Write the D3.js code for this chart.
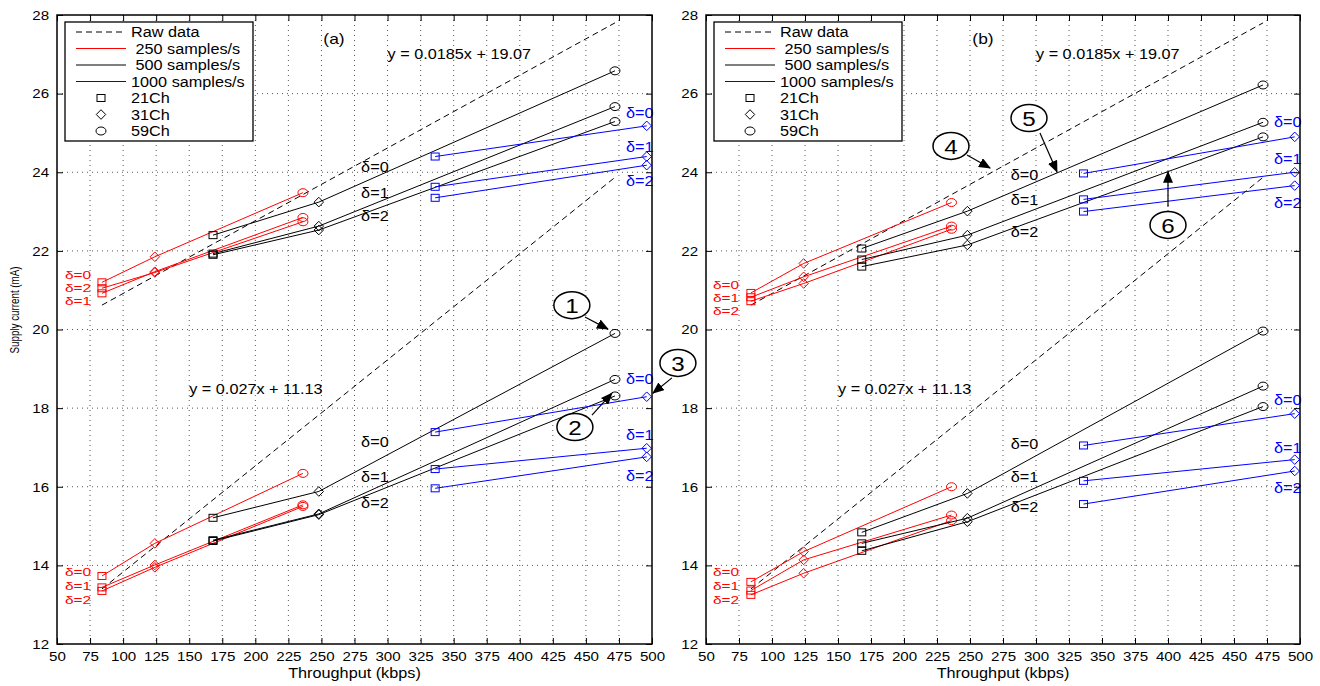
<!DOCTYPE html>
<html>
<head>
<meta charset="utf-8">
<script src="https://cdn.jsdelivr.net/npm/d3@7"></script>
<style>
  body { margin: 0; background: #fff; }
  svg { display: block; font-family: "Liberation Sans", Arial, Helvetica, sans-serif; }
</style>
</head>
<body>
<script>
const WIDTH = 1320;
const HEIGHT = 686;
const SX = 1.16; // the original figure is stretched sideways

// ---- data ----
const X_TICKS = d3.range(50, 501, 25);
const Y_TICKS = d3.range(12, 29, 2);

const RATES = [" 250 samples/s", " 500 samples/s", "1000 samples/s"];
const CHANNELS = ["21Ch", "31Ch", "59Ch"];
const DELTAS = ["δ=0", "δ=1", "δ=2"];

// throughput (kbps) and channel count of every point, per sample rate
const X_250 = [84, 124, 236];
const X_500 = [168, 248, 472];
const X_1000 = [336, 496];
const CH_250 = ["21Ch", "31Ch", "59Ch"];
const CH_500 = ["21Ch", "31Ch", "59Ch"];
const CH_1000 = ["21Ch", "31Ch"];

// raw data (dashed), end points at 84 and 472 kbps
const RAW_X = [84, 472];
const RAW_UP = [20.62, 27.80];
const RAW_LO = [13.40, 23.87];
const FIT_UP = "y = 0.0185x + 19.07";
const FIT_LO = "y = 0.027x + 11.13";

// supply current (mA), rows are delta = 0, 1, 2
const A_UP_250 = [[21.20, 21.85, 23.48], [20.92, 21.47, 22.85], [21.05, 21.45, 22.74]];
const A_UP_500 = [[22.40, 23.24, 26.58], [21.93, 22.63, 25.67], [21.90, 22.53, 25.29]];
const A_UP_1000 = [[24.40, 25.18], [23.63, 24.40], [23.35, 24.18]];
const A_LO_250 = [[13.73, 14.56, 16.34], [13.44, 14.01, 15.54], [13.35, 13.95, 15.50]];
const A_LO_500 = [[15.21, 15.88, 19.90], [14.64, 15.31, 18.73], [14.62, 15.29, 18.31]];
const A_LO_1000 = [[17.39, 18.29], [16.45, 16.98], [15.96, 16.76]];

const B_UP_250 = [[20.93, 21.68, 23.23], [20.82, 21.34, 22.63], [20.72, 21.17, 22.55]];
const B_UP_500 = [[22.06, 23.01, 26.22], [21.78, 22.40, 25.27], [21.60, 22.15, 24.90]];
const B_UP_1000 = [[23.97, 24.90], [23.31, 24.00], [23.00, 23.66]];
const B_LO_250 = [[13.58, 14.35, 16.00], [13.36, 14.14, 15.28], [13.25, 13.80, 15.14]];
const B_LO_500 = [[14.84, 15.83, 19.96], [14.56, 15.20, 18.56], [14.37, 15.11, 18.04]];
const B_LO_1000 = [[17.05, 17.86], [16.15, 16.69], [15.56, 16.40]];

// ---- layout / style ----
const RATE_X = [X_250, X_500, X_1000];
const RATE_CH = [CH_250, CH_500, CH_1000];
const RATE_COLOR = ["#ff0000", "#000000", "#0000ff"];
const TOP = 15, BOTTOM = 644;

// delta label places, in data units: [x, y(δ0), y(δ1), y(δ2)] per rate
const PANELS = [
  { name: "(a)", left: 57, right: 652, ylabel: true,
    groups: [[A_UP_250, A_UP_500, A_UP_1000], [A_LO_250, A_LO_500, A_LO_1000]],
    labels: [
      [[56, 21.39, 20.72, 21.06], [280, 24.13, 23.47, 22.89], [480.3, 25.51, 24.64, 23.78]],
      [[56, 13.83, 13.46, 13.10], [280, 17.14, 16.25, 15.59], [480.3, 18.74, 17.32, 16.27]]
    ],
    notes: [
      { t: "1", cx: 439.4, cy: 20.62, x1: 449.3, y1: 20.32, x2: 466.7, y2: 20.01 },
      { t: "2", cx: 441.7, cy: 17.52, x1: 454.6, y1: 17.82, x2: 469.7, y2: 18.38 },
      { t: "3", cx: 519.6, cy: 19.15, x1: 515.1, y1: 18.77, x2: 500.7, y2: 18.38 }
    ] },
  { name: "(b)", left: 706, right: 1300, ylabel: false,
    groups: [[B_UP_250, B_UP_500, B_UP_1000], [B_LO_250, B_LO_500, B_LO_1000]],
    labels: [
      [[55.3, 21.13, 20.80, 20.47], [280.8, 23.93, 23.29, 22.48], [480.3, 25.29, 24.35, 23.21]],
      [[55.3, 13.83, 13.47, 13.10], [280.8, 17.09, 16.26, 15.48], [480.3, 18.22, 16.98, 15.96]]
    ],
    notes: [
      { t: "4", cx: 235.6, cy: 24.67, x1: 247.7, y1: 24.44, x2: 265.2, y2: 24.11 },
      { t: "5", cx: 294.7, cy: 25.38, x1: 303.0, y1: 25.00, x2: 315.9, y2: 24.01 },
      { t: "6", cx: 400.0, cy: 22.66, x1: 400.0, y1: 23.12, x2: 400.0, y2: 24.01 }
    ] }
];

const svg = d3.select("body").append("svg")
  .attr("width", WIDTH)
  .attr("height", HEIGHT);

svg.append("defs").append("marker")
  .attr("id", "head")
  .attr("markerUnits", "userSpaceOnUse")
  .attr("markerWidth", 12).attr("markerHeight", 10)
  .attr("refX", 11).attr("refY", 5)
  .attr("orient", "auto")
  .append("path")
  .attr("d", "M0,0 L12,5 L0,10 Z")
  .attr("fill", "#000");

const txt = (g, x, y, s, o = {}) =>
  g.append("text")
   .attr("transform", `translate(${x},${y}) scale(${o.sx || SX},1)`)
   .attr("text-anchor", o.anchor || "start")
   .attr("dominant-baseline", "central")
   .attr("font-size", o.size || 14)
   .attr("fill", o.color || "#000")
   .style("white-space", "pre")
   .text(s);

const drawMarker = (g, ch, cx, cy, color) => {
  if (ch === "21Ch") {
    g.append("rect").attr("x", cx - 4).attr("y", cy - 3.5)
     .attr("width", 8).attr("height", 7)
     .attr("fill", "none").attr("stroke", color);
  } else if (ch === "31Ch") {
    g.append("path")
     .attr("d", `M${cx},${cy - 4.8} L${cx + 4.7},${cy} L${cx},${cy + 4.8} L${cx - 4.7},${cy} Z`)
     .attr("fill", "none").attr("stroke", color);
  } else {
    g.append("ellipse").attr("cx", cx).attr("cy", cy)
     .attr("rx", 5).attr("ry", 4)
     .attr("fill", "none").attr("stroke", color);
  }
}

const drawPanel = (p) => {
  const x = d3.scaleLinear().domain([50, 500]).range([p.left, p.right]);
  const y = d3.scaleLinear().domain([12, 28]).range([BOTTOM, TOP]);
  const g = svg.append("g");

  // dotted grid
  g.selectAll(".vg").data(X_TICKS.slice(1, -1)).join("line")
   .attr("x1", d => x(d)).attr("x2", d => x(d))
   .attr("y1", TOP).attr("y2", BOTTOM)
   .attr("stroke", "#555").attr("stroke-dasharray", "1,4");
  g.selectAll(".hg").data(Y_TICKS.slice(1, -1)).join("line")
   .attr("x1", p.left).attr("x2", p.right)
   .attr("y1", d => y(d)).attr("y2", d => y(d))
   .attr("stroke", "#555").attr("stroke-dasharray", "1,4");

  // raw data
  const line = d3.line().x(d => x(d[0])).y(d => y(d[1]));
  [RAW_UP, RAW_LO].forEach(r => {
    g.append("path")
     .attr("d", line(RAW_X.map((v, i) => [v, r[i]])))
     .attr("fill", "none").attr("stroke", "#000")
     .attr("stroke-dasharray", "6,4");
  });
  txt(g, x(300), y(27.0), FIT_UP);
  txt(g, x(150), y(18.5), FIT_LO);

  // series
  p.groups.forEach((grp, gi) => {
    grp.forEach((vals, ri) => {
      const xs = RATE_X[ri], chs = RATE_CH[ri], col = RATE_COLOR[ri];
      vals.forEach(row => {
        g.append("path")
         .attr("d", line(xs.map((v, i) => [v, row[i]])))
         .attr("fill", "none").attr("stroke", col).attr("stroke-width", 1);
        row.forEach((v, i) => drawMarker(g, chs[i], x(xs[i]), y(v), col));
      });
      const lab = p.labels[gi][ri];
      DELTAS.forEach((d, di) =>
        txt(g, x(lab[0]), y(lab[di + 1]), d,
            ri === 0 ? { color: col, size: 11.2, sx: 1.38 } : { color: col }));
    });
  });

  // axes, ticks inside on all four sides
  const ax = [
    [d3.axisBottom(x).tickValues(X_TICKS), `translate(0,${BOTTOM})`],
    [d3.axisTop(x).tickValues(X_TICKS).tickFormat(""), `translate(0,${TOP})`],
    [d3.axisLeft(y).tickValues(Y_TICKS), `translate(${p.left},0)`],
    [d3.axisRight(y).tickValues(Y_TICKS).tickFormat(""), `translate(${p.right},0)`]
  ];
  ax.forEach(([a, tr]) => {
    const ag = g.append("g").attr("transform", tr)
      .call(a.tickSizeInner(-6).tickSizeOuter(0).tickPadding(7));
    ag.select(".domain").remove();
    ag.selectAll(".tick line").attr("stroke", "#000");
    ag.selectAll(".tick text")
      .attr("font-family", "Liberation Sans, Arial, sans-serif")
      .attr("font-size", 13.5)
      .attr("fill", "#000")
      .attr("transform", `scale(1.12,1)`);
  });
  g.append("rect")
   .attr("x", p.left).attr("y", TOP)
   .attr("width", p.right - p.left).attr("height", BOTTOM - TOP)
   .attr("fill", "none").attr("stroke", "#000").attr("stroke-width", 1.5);

  txt(g, (p.left + p.right) / 2, 673, "Throughput (kbps)", { anchor: "middle" });
  if (p.ylabel) {
    g.append("text")
     .attr("transform", `translate(15,310) rotate(-90) scale(1,1.25)`)
     .attr("text-anchor", "middle").attr("dominant-baseline", "central")
     .attr("font-size", 9.8).text("Supply current (mA)");
  }
  txt(g, p.left + 277, TOP + 23, p.name, { anchor: "middle", size: 15 });

  // legend
  const lg = g.append("g").attr("transform", `translate(${p.left + 8},${TOP + 7})`);
  lg.append("rect").attr("width", 188).attr("height", 119)
    .attr("fill", "#fff").attr("stroke", "#000").attr("stroke-width", 1.3);
  const rowY = i => 10 + i * 16.5;
  txt(lg, 66, rowY(0), "Raw data");
  lg.append("line").attr("x1", 11).attr("x2", 61).attr("y1", rowY(0)).attr("y2", rowY(0))
    .attr("stroke", "#000").attr("stroke-dasharray", "6,4");
  RATES.forEach((r, i) => {
    lg.append("line").attr("x1", 11).attr("x2", 61)
      .attr("y1", rowY(i + 1)).attr("y2", rowY(i + 1))
      .attr("stroke", RATE_COLOR[i]);
    txt(lg, 66, rowY(i + 1), r);
  });
  CHANNELS.forEach((c, i) => {
    drawMarker(lg, c, 36, rowY(i + 4), "#000");
    txt(lg, 66, rowY(i + 4), c);
  });

  // numbered call-outs
  p.notes.forEach(n => {
    g.append("line")
     .attr("x1", x(n.x1)).attr("y1", y(n.y1))
     .attr("x2", x(n.x2)).attr("y2", y(n.y2))
     .attr("stroke", "#000").attr("stroke-width", 1.2)
     .attr("marker-end", "url(#head)");
    g.append("ellipse").attr("cx", x(n.cx)).attr("cy", y(n.cy))
     .attr("rx", 18).attr("ry", 13.5)
     .attr("fill", "#fff").attr("stroke", "#000").attr("stroke-width", 1.5);
    txt(g, x(n.cx), y(n.cy) + 1, n.t, { anchor: "middle", size: 21, sx: 1.15 });
  });
}

PANELS.forEach(drawPanel);
</script>
</body>
</html>
